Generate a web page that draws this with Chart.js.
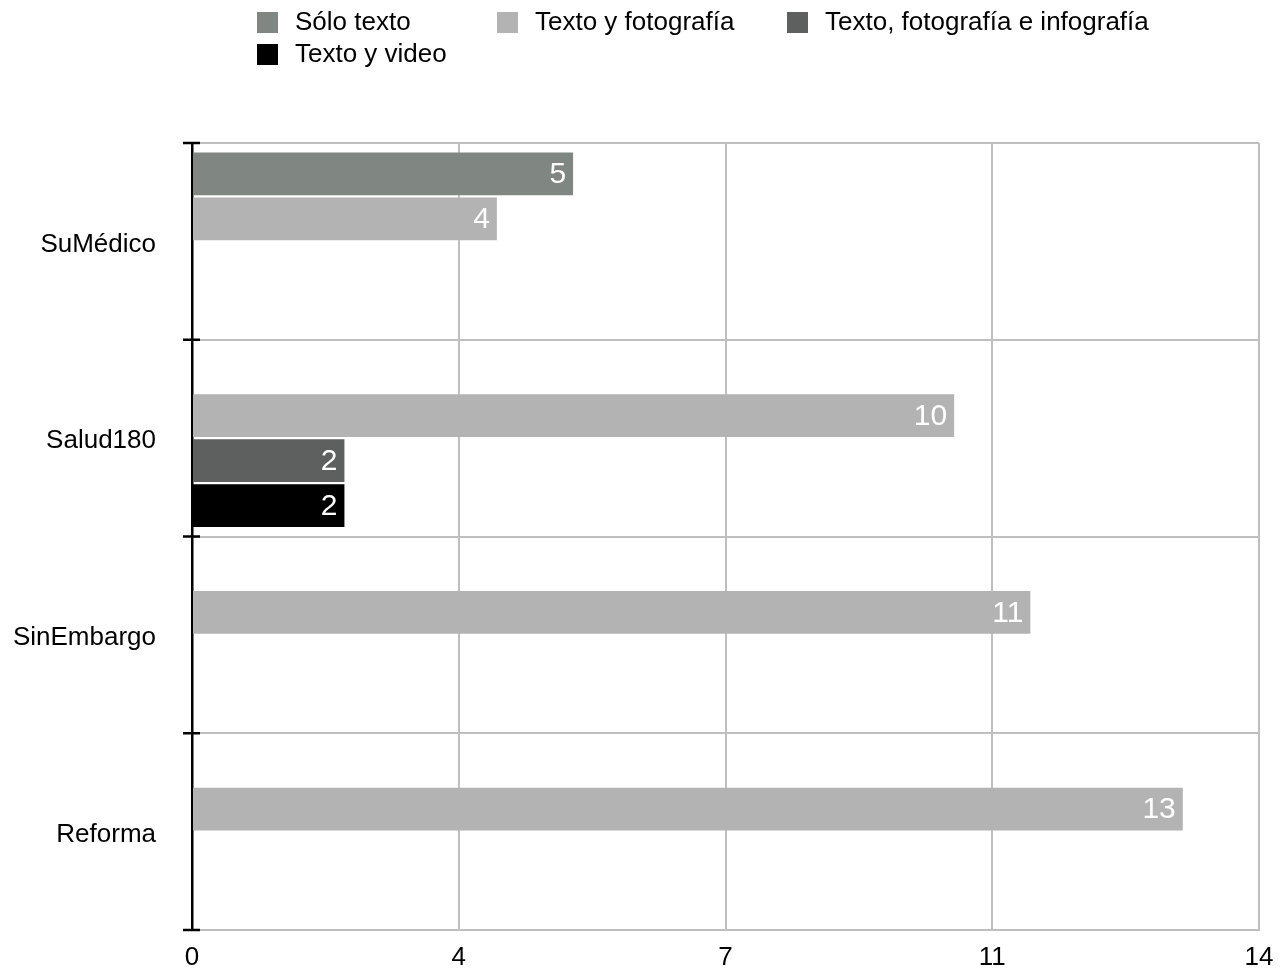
<!DOCTYPE html>
<html>
<head>
<meta charset="utf-8">
<script src="https://cdn.jsdelivr.net/npm/chart.js@4"></script>
<style>
  html, body { margin: 0; padding: 0; background: #fff; }
  #wrap { width: 1283px; height: 969px; position: relative; }
</style>
</head>
<body>
<div id="wrap"><canvas id="chart"></canvas></div>
<script>
// --- data ---
const medios = ['SuMédico', 'Salud180', 'SinEmbargo', 'Reforma'];
const series = ['Sólo texto', 'Texto y fotografía', 'Texto, fotografía e infografía', 'Texto y video'];
const soloTexto = [5, 0, 0, 0];
const textoFoto = [4, 10, 11, 13];
const textoFotoInfo = [0, 2, 0, 0];
const textoVideo = [0, 2, 0, 0];
const xTicks = [0, 4, 7, 11, 14];

const colors = ['#808682', '#b3b3b3', '#5d605e', '#000000'];
const FONT = "'Liberation Sans', Arial, Helvetica, sans-serif";
const GRID = '#bfbfbf';

Chart.defaults.font.family = FONT;
Chart.defaults.color = '#000';

// white value labels inside the bar ends
const valueLabels = {
  id: 'valueLabels',
  afterDatasetsDraw(chart) {
    const ctx = chart.ctx;
    ctx.save();
    ctx.font = '30px ' + FONT;
    ctx.fillStyle = '#fff';
    ctx.textAlign = 'right';
    ctx.textBaseline = 'middle';
    chart.data.datasets.forEach((ds, i) => {
      chart.getDatasetMeta(i).data.forEach((bar, j) => {
        if (!ds.data[j]) return;
        ctx.fillText(String(ds.data[j]), bar.x - 7, bar.y + 1);
      });
    });
    ctx.restore();
  }
};

// black tick marks crossing the category axis, at the band edges
const axisTicks = {
  id: 'axisTicks',
  afterDraw(chart) {
    const y = chart.scales.y;
    const ctx = chart.ctx;
    const n = chart.data.labels.length;
    const step = (y.bottom - y.top) / n;
    ctx.save();
    ctx.strokeStyle = '#000';
    ctx.lineWidth = 2.5;
    for (let i = 0; i <= n; i++) {
      const py = y.top + i * step;
      ctx.beginPath();
      ctx.moveTo(y.right - 9, py);
      ctx.lineTo(y.right + 8, py);
      ctx.stroke();
    }
    ctx.restore();
  }
};

// legend in two rows, left aligned columns
const legendSlots = [[257, 12], [497, 12], [787, 12], [257, 44]];
const topLegend = {
  id: 'topLegend',
  afterDraw(chart) {
    const ctx = chart.ctx;
    ctx.save();
    ctx.font = '26px ' + FONT;
    ctx.textBaseline = 'middle';
    ctx.textAlign = 'left';
    chart.data.datasets.forEach((ds, i) => {
      const [lx, ly] = legendSlots[i];
      ctx.fillStyle = ds.backgroundColor;
      ctx.fillRect(lx, ly, 21, 21);
      ctx.fillStyle = '#000';
      ctx.fillText(ds.label, lx + 38, ly + 11);
    });
    ctx.restore();
  }
};

new Chart(document.getElementById('chart'), {
  type: 'bar',
  data: {
    labels: medios,
    datasets: [soloTexto, textoFoto, textoFotoInfo, textoVideo].map((d, i) => ({
      label: series[i],
      data: d,
      backgroundColor: colors[i],
      borderWidth: 0,
      categoryPercentage: 0.915,
      barPercentage: 0.95
    }))
  },
  options: {
    indexAxis: 'y',
    responsive: true,
    maintainAspectRatio: false,
    animation: false,
    layout: { padding: { top: 143, right: 24, bottom: 0, left: 0 } },
    plugins: {
      legend: { display: false },
      tooltip: { enabled: false }
    },
    scales: {
      x: {
        min: 0,
        max: 14,
        afterFit: s => { s.height = 39; s.paddingLeft = 0; s.paddingRight = 0; },
        afterBuildTicks: s => { s.ticks = [0, 3.5, 7, 10.5, 14].map(v => ({ value: v })); },
        ticks: {
          font: { size: 26 },
          color: '#000',
          padding: 12,
          maxRotation: 0,
          callback: (v, i) => xTicks[i]
        },
        grid: {
          color: c => (c.tick && c.tick.value === 0) ? 'rgba(0,0,0,0)' : GRID,
          lineWidth: 2,
          drawTicks: false
        },
        border: { color: GRID, width: 2 }
      },
      y: {
        afterFit: s => { s.width = 192; s.paddingTop = 0; s.paddingBottom = 0; },
        ticks: {
          font: { size: 26 },
          color: '#000',
          padding: 36,
          labelOffset: 3
        },
        grid: {
          offset: true,
          color: GRID,
          lineWidth: 2,
          drawTicks: false
        },
        border: { color: '#000', width: 2.5 }
      }
    }
  },
  plugins: [valueLabels, axisTicks, topLegend]
});
</script>
</body>
</html>
